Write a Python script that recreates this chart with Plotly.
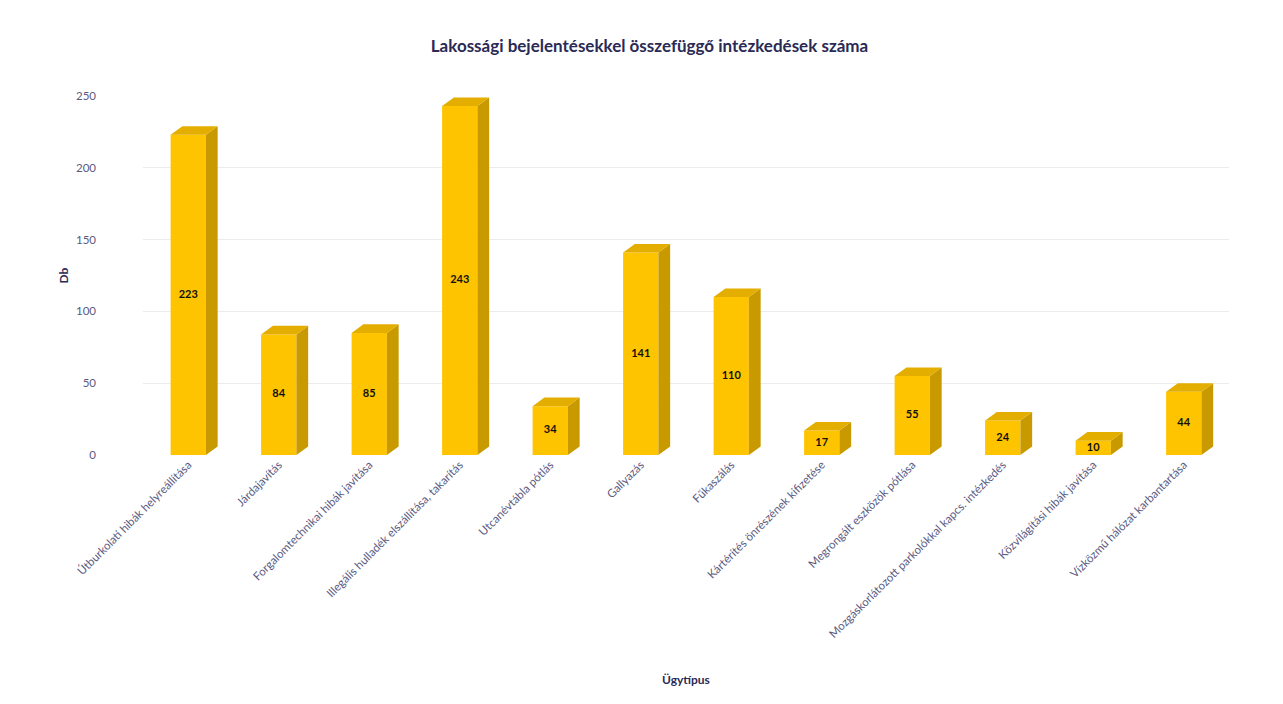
import plotly.graph_objects as go

categories = [
    "Útburkolati hibák helyreállítása",
    "Járdajavítás",
    "Forgalomtechnikai hibák javítása",
    "Illegális hulladék elszállítása, takarítás",
    "Utcanévtábla pótlás",
    "Gallyazás",
    "Fűkaszálás",
    "Kártérítés önrészének kifizetése",
    "Megrongált eszközök pótlása",
    "Mozgáskorlátozott parkolókkal kapcs. intézkedés",
    "Közvilágítási hibák javítása",
    "Vízközmű hálózat karbantartása",
]
values = [223, 84, 85, 243, 34, 141, 110, 17, 55, 24, 10, 44]

FRONT = "#FFC400"
SIDE = "#C99A00"
TOP = "#E3AE00"
FONT = "Lato, Open Sans, sans-serif"
TXT = "#5a5a82"

xs = list(range(len(categories)))
w = 0.39      # bar width (category units)
dx = 0.13     # depth offset, x
dy = 6.0      # depth offset, y (data units)

fig = go.Figure()

# side faces
sx, sy = [], []
for i, v in zip(xs, values):
    r = i + w / 2
    sx += [r, r + dx, r + dx, r, r, None]
    sy += [0, dy, v + dy, v, 0, None]
fig.add_trace(go.Scatter(x=sx, y=sy, mode="lines", fill="toself", fillcolor=SIDE,
                         line=dict(width=0), hoverinfo="skip", showlegend=False))

# top faces
tx, ty = [], []
for i, v in zip(xs, values):
    l, r = i - w / 2, i + w / 2
    tx += [l, l + dx, r + dx, r, l, None]
    ty += [v, v + dy, v + dy, v, v, None]
fig.add_trace(go.Scatter(x=tx, y=ty, mode="lines", fill="toself", fillcolor=TOP,
                         line=dict(width=0), hoverinfo="skip", showlegend=False))

# front faces
fig.add_trace(go.Bar(x=xs, y=values, width=w, marker=dict(color=FRONT, line=dict(width=0)),
                     showlegend=False))

# value labels
fig.add_trace(go.Scatter(x=xs, y=[v / 2 for v in values], mode="text",
                         text=[f"<b>{v}</b>" for v in values],
                         textfont=dict(family=FONT, size=11, color="#111111"),
                         hoverinfo="skip", showlegend=False))

fig.update_layout(
    width=1283, height=704,
    paper_bgcolor="white", plot_bgcolor="white",
    margin=dict(l=135, r=62, t=88, b=257),
    title=dict(text="<b>Lakossági bejelentésekkel összefüggő intézkedések száma</b>",
               x=0.5, xanchor="center", y=1 - 38 / 704, yanchor="middle",
               font=dict(family=FONT, size=17, color="#2a2a55")),
    xaxis=dict(range=[-0.5, 11.5], tickvals=xs, ticktext=categories, tickangle=-45,
               tickfont=dict(family=FONT, size=11.5, color=TXT), showgrid=False,
               zeroline=False, showline=False, ticks=""),
    yaxis=dict(range=[0, 250], dtick=50, tickfont=dict(family=FONT, size=11.5, color=TXT),
               showgrid=True, gridcolor="#ececec", zeroline=False, showline=False,
               ticks="", ticklabelstandoff=46,
               title=dict(text="<b>Db</b>", font=dict(family=FONT, size=12, color="#2a2a55"),
                          standoff=4)),
    bargap=0.6,
)

fig.add_annotation(text="<b>Ügytípus</b>", x=0.5, xref="paper",
                   y=-(679 - 455) / 359, yref="paper", yanchor="middle",
                   showarrow=False, font=dict(family=FONT, size=12, color="#2a2a55"))

fig.write_html("out.html")
